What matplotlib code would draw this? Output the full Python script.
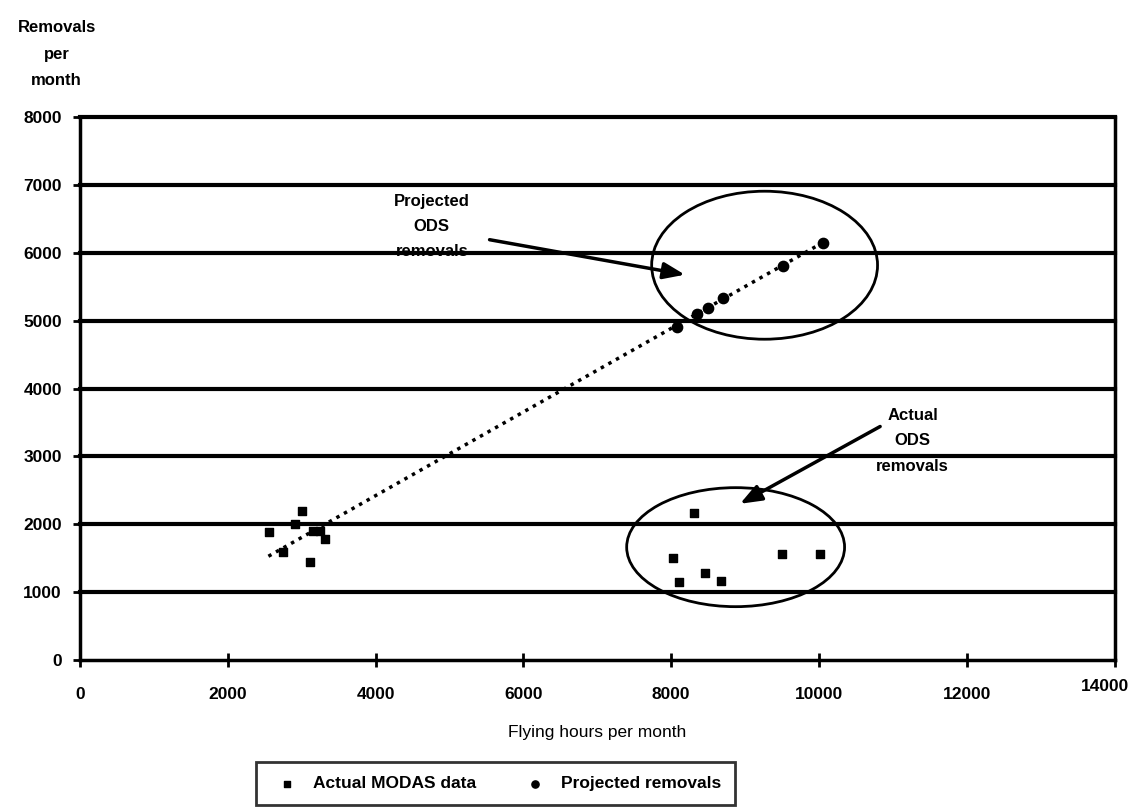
import matplotlib.pyplot as plt
import matplotlib.transforms as mtransforms
from matplotlib.patches import Ellipse

plt.rcParams['font.family'] = ['Liberation Sans', 'DejaVu Sans']
plt.rcParams['font.weight'] = 'bold'

# actual MODAS data
act_x = [2556, 2745, 2907, 3002, 3110, 3151, 3245, 3313,
         8019, 8100, 8303, 8452, 8668, 9493, 10007]
act_y = [1880, 1600, 2000, 2200, 1450, 1900, 1900, 1780,
         1500, 1150, 2170, 1280, 1170, 1560, 1560]

# projected removals
proj_x = [8073, 8344, 8492, 8695, 9507, 10047]
proj_y = [4900, 5100, 5190, 5330, 5800, 6140]

# trend line (dotted)
trend_x = [2550, 10050]
trend_y = [1530, 6150]

fig = plt.figure(figsize=(11.34, 8.07), dpi=100)
ax = fig.add_axes([0.0705, 0.182, 0.9125, 0.673])

for yv in range(1000, 9000, 1000):
    ax.axhline(yv, color='black', lw=3, zorder=1, clip_on=False)

ax.plot(trend_x, trend_y, color='black', lw=2.5, linestyle=(0, (1, 1.5)), zorder=2)
ax.scatter(act_x, act_y, marker='s', s=40, color='black', zorder=3, label='Actual MODAS data')
ax.scatter(proj_x, proj_y, marker='o', s=55, color='black', zorder=3, label='Projected removals')

ax.add_patch(Ellipse((9263, 5817), 3056, 2180, fill=False, color='black', lw=2, zorder=2))
ax.add_patch(Ellipse((8871, 1664), 2948, 1753, fill=False, color='black', lw=2, zorder=2))

ax.annotate('', xy=(8222, 5670), xytext=(5505, 6200),
            arrowprops=dict(arrowstyle='-|>,head_length=1.3,head_width=0.5', color='black', lw=2.5))
ax.annotate('', xy=(8898, 2283), xytext=(10859, 3461),
            arrowprops=dict(arrowstyle='-|>,head_length=1.3,head_width=0.5', color='black', lw=2.5))

ax.text(4760, 6390, 'Projected\nODS\nremovals', ha='center', va='center', fontsize=12, linespacing=1.85)
ax.text(11264, 3230, 'Actual\nODS\nremovals', ha='center', va='center', fontsize=12, linespacing=1.85)

ax.set_xlim(0, 14000)
ax.set_ylim(0, 8000)
ax.set_xticks(range(0, 16000, 2000))
ax.set_yticks(range(0, 9000, 1000))
ax.tick_params(direction='inout', length=10, width=2, labelsize=12.5, pad=8)
ax.tick_params(axis='x', pad=14)
# last x label sits a bit left/up in the original
last = ax.get_xticklabels()[-1]
last.set_transform(last.get_transform() + mtransforms.ScaledTranslation(-0.1, 0.08, fig.dpi_scale_trans))
for s in ['left', 'right', 'bottom']:
    ax.spines[s].set_linewidth(2.5)
ax.spines['top'].set_visible(False)

ax.set_xlabel('Flying hours per month', fontsize=12.5, labelpad=17)
fig.text(0.05, 0.933, 'Removals\nper\nmonth', ha='center', va='center', fontsize=12, linespacing=1.95)

leg = fig.legend(loc='upper center', bbox_to_anchor=(0.437, 0.066), ncol=2, fontsize=12.5,
                 frameon=True, fancybox=False, edgecolor='black', borderpad=0.8,
                 columnspacing=2.4, handletextpad=0.5, markerscale=0.7)
leg.get_frame().set_linewidth(2)

fig.savefig('out.png', dpi=100)
